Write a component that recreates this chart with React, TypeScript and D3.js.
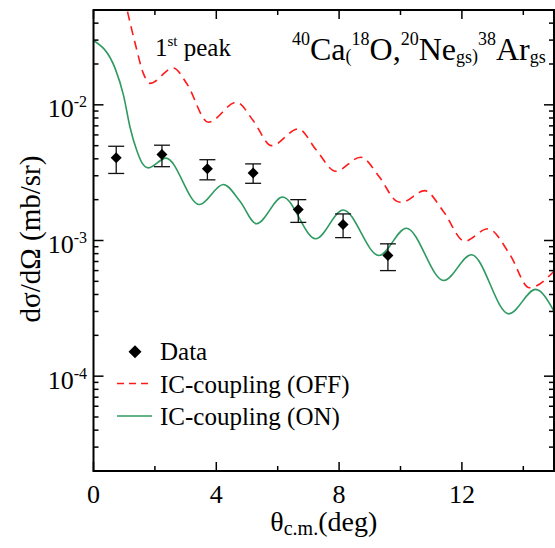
import React from "react";
import * as d3 from "d3";

// ---- data ----
const greenTheta = [0, 0.71, 0.98, 1.19, 1.41, 1.57, 1.79, 2.36, 3.45, 4.23, 4.77, 5.31, 6.16, 7.24, 8.13, 9.3, 10.19, 11.41, 12.31, 13.53, 14.4, 15.0];
const greenValue = [2.98e-2, 1.84e-2, 1.17e-2, 6.84e-3, 4.6e-3, 3.77e-3, 3.43e-3, 4.05e-3, 1.84e-3, 2.59e-3, 1.95e-3, 1.33e-3, 2.09e-3, 1.03e-3, 1.68e-3, 7.75e-4, 1.23e-3, 5.07e-4, 7.85e-4, 2.88e-4, 4.36e-4, 3.02e-4];

const redTheta = [0.9, 1.1, 1.36, 1.63, 1.84, 2.6, 3.04, 3.74, 4.66, 5.2, 5.8, 6.67, 7.27, 7.89, 8.7, 9.32, 9.87, 10.03, 10.79, 11.38, 12.09, 12.85, 13.55, 14.2, 15.0];
const redValue = [8e-2, 4.95e-2, 2.82e-2, 1.69e-2, 1.44e-2, 1.87e-2, 1.43e-2, 7.44e-3, 1.045e-2, 7.66e-3, 5.0e-3, 6.65e-3, 4.6e-3, 3.24e-3, 4.11e-3, 2.92e-3, 1.95e-3, 1.91e-3, 2.33e-3, 1.66e-3, 9.89e-4, 1.22e-3, 7.98e-4, 4.48e-4, 5.94e-4];

const dataTheta = [0.74, 2.23, 3.71, 5.2, 6.67, 8.13, 9.59];
const dataValue = [4.07e-3, 4.3e-3, 3.38e-3, 3.15e-3, 1.69e-3, 1.31e-3, 7.75e-4];
const dataHigh = [4.95e-3, 5.04e-3, 3.94e-3, 3.67e-3, 2.0e-3, 1.57e-3, 9.45e-4];
const dataLow = [3.12e-3, 3.5e-3, 2.8e-3, 2.64e-3, 1.36e-3, 1.05e-3, 6.0e-4];

const xTickValues = [0, 4, 8, 12];
const xMinorTicks = [2, 6, 10, 14];
const yMajorExp = [-4, -3, -2];

const legendLabels = ["Data", "IC-coupling (OFF)", "IC-coupling (ON)"];

const W = 555, H = 548;
const L = 93.5, R = 554, T = 10, B = 471;
const FONT = '"Liberation Serif"';
const RED = "#ff1a1a";
const GREEN = "#2f9a62";
const TS: React.CSSProperties = { fontFamily: FONT };

export default function App() {
  const x = d3.scaleLinear().domain([0, 15]).range([L, R]);
  const y = d3.scaleLog().domain([2e-5, 5e-2]).range([B, T]);

  const line = d3
    .line<[number, number]>()
    .x((d) => x(d[0]))
    .y((d) => y(d[1]))
    .curve(d3.curveMonotoneX);

  const greenPts = greenTheta.map((t, i) => [t, greenValue[i]] as [number, number]);
  const redPts = redTheta.map((t, i) => [t, redValue[i]] as [number, number]);

  const yMinor: number[] = [];
  for (let e = -5; e <= -2; e++) {
    for (let m = 2; m <= 9; m++) {
      const v = m * Math.pow(10, e);
      if (v >= 2e-5 && v <= 5e-2) yMinor.push(v);
    }
  }

  const diamond = (cx: number, cy: number, r: number) =>
    `M${cx},${cy - r}L${cx + r},${cy}L${cx},${cy + r}L${cx - r},${cy}Z`;

  return (
    <svg
      width={W}
      height={H}
      style={{ position: "absolute", left: 0, top: 0, background: "#fff" }}
    >
      <defs>
        <clipPath id="plotclip">
          <rect x={L} y={T} width={R - L} height={B - T} />
        </clipPath>
      </defs>

      <g clipPath="url(#plotclip)">
        <path d={line(redPts) || ""} fill="none" stroke={RED} strokeWidth={1.6} strokeDasharray="9,6" />
        <path d={line(greenPts) || ""} fill="none" stroke={GREEN} strokeWidth={1.6} />
      </g>

      <g>
        {dataTheta.map((t, i) => {
          const cx = x(t);
          return (
            <g key={i}>
              <line x1={cx} x2={cx} y1={y(dataHigh[i])} y2={y(dataLow[i])} stroke="#111" strokeWidth={1.3} />
              <line x1={cx - 8} x2={cx + 8} y1={y(dataHigh[i])} y2={y(dataHigh[i])} stroke="#111" strokeWidth={1.3} />
              <line x1={cx - 8} x2={cx + 8} y1={y(dataLow[i])} y2={y(dataLow[i])} stroke="#111" strokeWidth={1.3} />
              <path d={diamond(cx, y(dataValue[i]), 5.5)} fill="#000" />
            </g>
          );
        })}
      </g>

      <rect x={L} y={T} width={R - L} height={B - T} fill="none" stroke="#000" strokeWidth={2} />

      {xTickValues.map((v) => (
        <g key={"xt" + v}>
          <line x1={x(v)} x2={x(v)} y1={B} y2={B - 9} stroke="#000" strokeWidth={1.5} />
          <line x1={x(v)} x2={x(v)} y1={T} y2={T + 9} stroke="#000" strokeWidth={1.5} />
          <text x={x(v)} y={503} fontSize={26} textAnchor="middle" style={TS}>{v}</text>
        </g>
      ))}
      {xMinorTicks.map((v) => (
        <g key={"xm" + v}>
          <line x1={x(v)} x2={x(v)} y1={B} y2={B - 5} stroke="#000" strokeWidth={1.5} />
          <line x1={x(v)} x2={x(v)} y1={T} y2={T + 5} stroke="#000" strokeWidth={1.5} />
        </g>
      ))}

      {yMajorExp.map((e) => {
        const yy = y(Math.pow(10, e));
        return (
          <g key={"ye" + e}>
            <line x1={L} x2={L + 10} y1={yy} y2={yy} stroke="#000" strokeWidth={1.5} />
            <line x1={R} x2={R - 10} y1={yy} y2={yy} stroke="#000" strokeWidth={1.5} />
            <text x={87} y={yy + 12.4} fontSize={26} textAnchor="end" style={TS}>
              10<tspan fontSize={16} dy={-10}>{"-" + Math.abs(e)}</tspan>
            </text>
          </g>
        );
      })}
      {yMinor.map((v, i) => {
        const yy = y(v);
        return (
          <g key={"ym" + i}>
            <line x1={L} x2={L + 5} y1={yy} y2={yy} stroke="#000" strokeWidth={1.5} />
            <line x1={R} x2={R - 5} y1={yy} y2={yy} stroke="#000" strokeWidth={1.5} />
          </g>
        );
      })}

      <text transform="translate(40,239) rotate(-90)" fontSize={29} textAnchor="middle" style={TS}>
        dσ/dΩ (mb/sr)
      </text>
      <text x={(L + R) / 2} y={531} fontSize={28} textAnchor="middle" style={TS}>
        θ<tspan fontSize={20} dy={4}>c.m.</tspan><tspan dy={-4}>(deg)</tspan>
      </text>

      <text x={155} y={56} fontSize={25} style={TS}>
        1<tspan fontSize={15} y={46}>st</tspan><tspan y={56}> peak</tspan>
      </text>
      <text x={292} y={60} fontSize={32} style={TS}>
        <tspan fontSize={18} y={45}>40</tspan>
        <tspan y={60}>Ca</tspan>
        <tspan fontSize={18} y={62}>(</tspan>
        <tspan fontSize={18} y={45}>18</tspan>
        <tspan y={60}>O,</tspan>
        <tspan fontSize={18} y={45}>20</tspan>
        <tspan y={60}>Ne</tspan>
        <tspan fontSize={18} y={63}>gs</tspan>
        <tspan fontSize={18} y={62}>)</tspan>
        <tspan fontSize={18} y={45}>38</tspan>
        <tspan y={60}>Ar</tspan>
        <tspan fontSize={18} y={63}>gs</tspan>
      </text>

      <path d={diamond(135, 351.7, 6.5)} fill="#000" />
      <text x={160} y={360} fontSize={25} style={TS}>{legendLabels[0]}</text>
      <line x1={117} x2={152} y1={383.5} y2={383.5} stroke={RED} strokeWidth={1.6} strokeDasharray="7,5" />
      <text x={160} y={393} fontSize={25} style={TS}>{legendLabels[1]}</text>
      <line x1={117} x2={152} y1={416} y2={416} stroke={GREEN} strokeWidth={1.6} />
      <text x={160} y={425} fontSize={25} style={TS}>{legendLabels[2]}</text>
    </svg>
  );
}
